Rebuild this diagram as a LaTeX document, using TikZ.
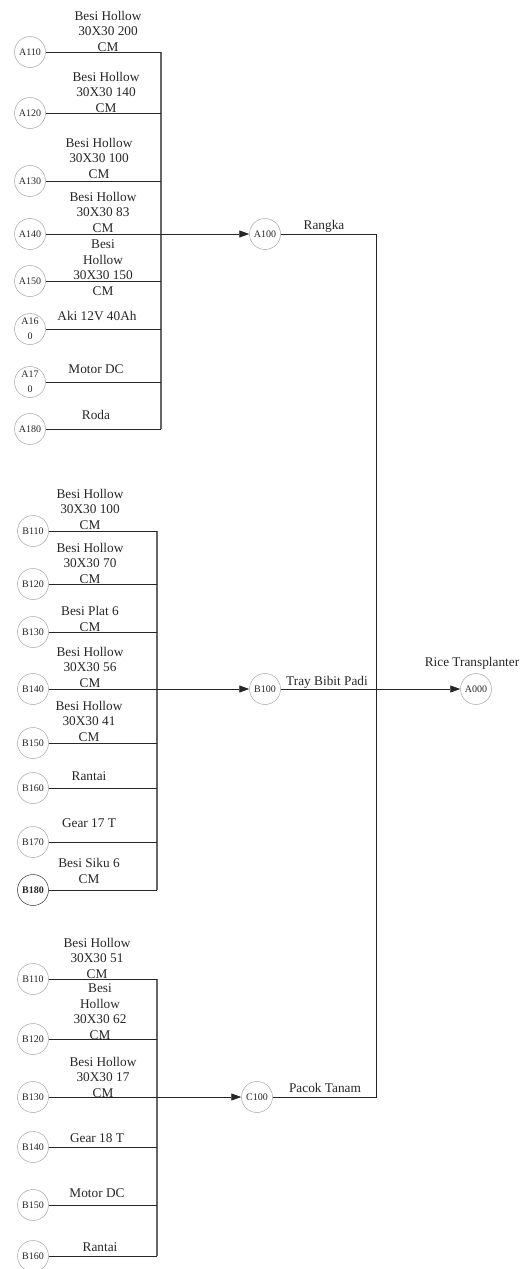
\documentclass[tikz,border=0pt]{standalone}
\usepackage{fontspec}
\setmainfont{Liberation Serif}
\usetikzlibrary{arrows.meta}
\begin{document}
\begin{tikzpicture}[x=1pt,y=-1pt,
  proc/.style={circle,draw=black!35,line width=0.5pt,minimum size=31pt,inner sep=0pt,
    font=\fontsize{10}{15}\selectfont,align=center,text=black!85},
  procbold/.style={proc,draw=black!80,font=\fontsize{10}{15}\selectfont\bfseries},
  lbl/.style={font=\fontsize{13.3}{15.7}\selectfont,align=center,inner sep=0pt,anchor=base,text=black!85},
  conn/.style={draw=black!85,line width=0.9pt},
  bus/.style={draw=black!60,line width=1.3pt},
  arr/.style={conn,-{Triangle[length=10pt,width=7pt]}}]
\useasboundingbox (0,0) rectangle (520,1269);

% ---------- top group ----------
\node[proc] (A110) at (30,52)  {A110};
\node[proc] (A120) at (30,113) {A120};
\node[proc] (A130) at (30,181) {A130};
\node[proc] (A140) at (30,234) {A140};
\node[proc] (A150) at (30,281) {A150};
\node[proc] (A160) at (30,329) {A16\\0};
\node[proc] (A170) at (30,382) {A17\\0};
\node[proc] (A180) at (30,429) {A180};

\node[lbl] (tA110) at (108,51.5)  {Besi Hollow\\30X30 200\\CM};
\node[lbl] (tA120) at (106,112.5) {Besi Hollow\\30X30 140\\CM};
\node[lbl] (tA130) at (99,178.5)  {Besi Hollow\\30X30 100\\CM};
\node[lbl] (tA140) at (103,232.5) {Besi Hollow\\30X30 83\\CM};
\node[lbl] (tA150) at (103,295.5) {Besi\\Hollow\\30X30 150\\CM};
\node[lbl] (tA160) at (97,320)    {Aki 12V 40Ah};
\node[lbl] (tA170) at (96,373)    {Motor DC};
\node[lbl] (tA180) at (96,419)    {Roda};

\coordinate (abt) at (161,52);
\coordinate (abb) at (161,429);
\draw[bus] (abt) -- (abb);
\foreach \n in {A110,A120,A130,A150,A160,A170,A180}
  \draw[conn] (\n) -- (\n -| abt);

\node[proc] (A100) at (265,234) {A100};
\draw[arr] (A140) -- (A100);
\node[lbl] (tA100) at (324,229.5) {Rangka};

% ---------- middle group ----------
\node[proc] (B110) at (33,531) {B110};
\node[proc] (B120) at (33,584) {B120};
\node[proc] (B130) at (33,632) {B130};
\node[proc] (B140) at (33,689) {B140};
\node[proc] (B150) at (33,743) {B150};
\node[proc] (B160) at (33,788) {B160};
\node[proc] (B170) at (33,842) {B170};
\node[procbold] (B180) at (33,890) {B180};

\node[lbl] (tB110) at (90,529.5) {Besi Hollow\\30X30 100\\CM};
\node[lbl] (tB120) at (90,583.5) {Besi Hollow\\30X30 70\\CM};
\node[lbl] (tB130) at (90,631.5) {Besi Plat 6\\CM};
\node[lbl] (tB140) at (90,687.5) {Besi Hollow\\30X30 56\\CM};
\node[lbl] (tB150) at (89,741.5) {Besi Hollow\\30X30 41\\CM};
\node[lbl] (tB160) at (89,780.5) {Rantai};
\node[lbl] (tB170) at (89,827.5) {Gear 17 T};
\node[lbl] (tB180) at (89,883.5) {Besi Siku 6\\CM};

\coordinate (bbt) at (157,531);
\coordinate (bbb) at (157,890);
\draw[bus] (bbt) -- (bbb);
\foreach \n in {B110,B120,B130,B150,B160,B170,B180}
  \draw[conn] (\n) -- (\n -| bbt);

\node[proc] (B100) at (265,689) {B100};
\draw[arr] (B140) -- (B100);
\node[lbl] (tB100) at (327,685) {Tray Bibit Padi};

% ---------- bottom group ----------
\node[proc] (D110) at (33,979)  {B110};
\node[proc] (D120) at (33,1039) {B120};
\node[proc] (D130) at (33,1097) {B130};
\node[proc] (D140) at (33,1147) {B140};
\node[proc] (D150) at (33,1205) {B150};
\node[proc] (D160) at (33,1256) {B160};

\node[lbl] (tD110) at (97,978.5)   {Besi Hollow\\30X30 51\\CM};
\node[lbl] (tD120) at (100,1039.5) {Besi\\Hollow\\30X30 62\\CM};
\node[lbl] (tD130) at (103,1097.5) {Besi Hollow\\30X30 17\\CM};
\node[lbl] (tD140) at (97,1142.5)  {Gear 18 T};
\node[lbl] (tD150) at (97,1197.5)  {Motor DC};
\node[lbl] (tD160) at (100,1251.5) {Rantai};

\coordinate (dbt) at (157,979);
\coordinate (dbb) at (157,1256);
\draw[bus] (dbt) -- (dbb);
\foreach \n in {D110,D120,D140,D150,D160}
  \draw[conn] (\n) -- (\n -| dbt);

\node[proc] (C100) at (257,1097) {C100};
\draw[arr] (D130) -- (C100);
\node[lbl] (tC100) at (325,1092) {Pacok Tanam};

% ---------- right side ----------
\node[proc] (A000) at (476,689) {A000};
\node[lbl] (tA000) at (472,666) {Rice Transplanter};
\coordinate (rc) at (376,1097);
\draw[conn] (A100) -| (rc) -- (C100);
\draw[arr] (B100) -- (A000);
\end{tikzpicture}
\end{document}
